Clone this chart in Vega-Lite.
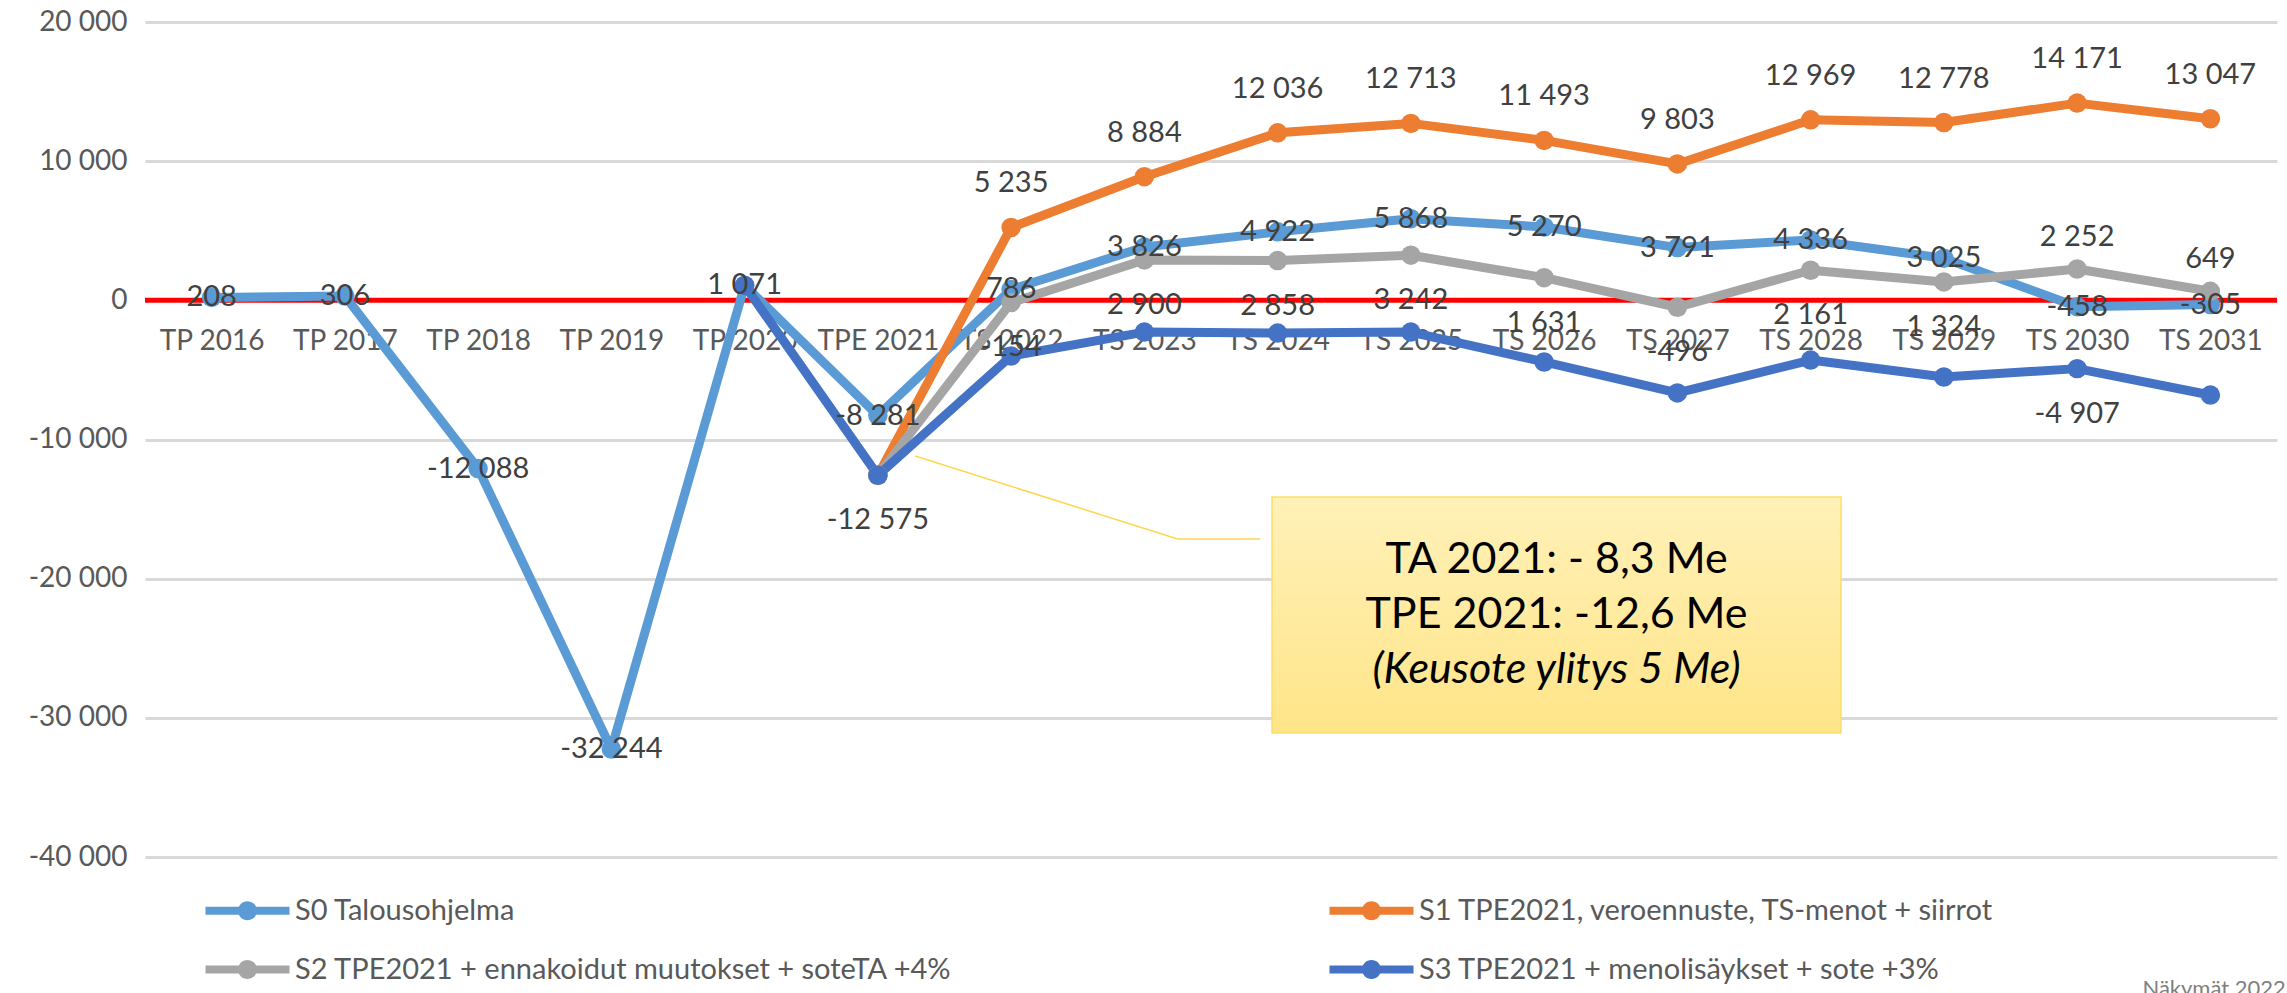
{
  "$schema": "https://vega.github.io/schema/vega-lite/v6.json",
  "width": 2132,
  "height": 835,
  "autosize": {"type": "none"},
  "padding": {"left": 145, "top": 22, "right": 10, "bottom": 136},
  "background": "white",
  "config": {
    "font": "Lato",
    "view": {"stroke": null},
    "locale": {"number": {"decimal": ",", "thousands": " ", "grouping": [3], "currency": ["", " €"], "minus": "-"}},
    "axisY": {"grid": true, "gridColor": "#D9D9D9", "gridWidth": 3, "domain": false, "ticks": false, "labelPadding": 18, "labelFontSize": 28, "labelColor": "#595959", "labelFont": "Lato", "tickCount": 7}
  },
  "resolve": {"scale": {"x": "independent"}},
  "layer": [
    {
      "data": {"values": [{}]},
      "mark": {"type": "rule", "color": "#FF0000", "strokeWidth": 5},
      "encoding": {"y": {"datum": 0, "type": "quantitative", "scale": {"domain": [-40000, 20000], "nice": false}, "axis": {"title": null, "format": ",.0f"}}}
    },
    {
      "data": {"values": [
        {"c": "TP 2016", "s": "S0 Talousohjelma", "v": 208},
        {"c": "TP 2017", "s": "S0 Talousohjelma", "v": 306},
        {"c": "TP 2018", "s": "S0 Talousohjelma", "v": -12088},
        {"c": "TP 2019", "s": "S0 Talousohjelma", "v": -32244},
        {"c": "TP 2020", "s": "S0 Talousohjelma", "v": 1071},
        {"c": "TPE 2021", "s": "S0 Talousohjelma", "v": -8281},
        {"c": "TS 2022", "s": "S0 Talousohjelma", "v": 786},
        {"c": "TS 2023", "s": "S0 Talousohjelma", "v": 3826},
        {"c": "TS 2024", "s": "S0 Talousohjelma", "v": 4922},
        {"c": "TS 2025", "s": "S0 Talousohjelma", "v": 5868},
        {"c": "TS 2026", "s": "S0 Talousohjelma", "v": 5270},
        {"c": "TS 2027", "s": "S0 Talousohjelma", "v": 3791},
        {"c": "TS 2028", "s": "S0 Talousohjelma", "v": 4336},
        {"c": "TS 2029", "s": "S0 Talousohjelma", "v": 3025},
        {"c": "TS 2030", "s": "S0 Talousohjelma", "v": -458},
        {"c": "TS 2031", "s": "S0 Talousohjelma", "v": -305},
        {"c": "TPE 2021", "s": "S1 TPE2021, veroennuste, TS-menot + siirrot", "v": -12575},
        {"c": "TS 2022", "s": "S1 TPE2021, veroennuste, TS-menot + siirrot", "v": 5235},
        {"c": "TS 2023", "s": "S1 TPE2021, veroennuste, TS-menot + siirrot", "v": 8884},
        {"c": "TS 2024", "s": "S1 TPE2021, veroennuste, TS-menot + siirrot", "v": 12036},
        {"c": "TS 2025", "s": "S1 TPE2021, veroennuste, TS-menot + siirrot", "v": 12713},
        {"c": "TS 2026", "s": "S1 TPE2021, veroennuste, TS-menot + siirrot", "v": 11493},
        {"c": "TS 2027", "s": "S1 TPE2021, veroennuste, TS-menot + siirrot", "v": 9803},
        {"c": "TS 2028", "s": "S1 TPE2021, veroennuste, TS-menot + siirrot", "v": 12969},
        {"c": "TS 2029", "s": "S1 TPE2021, veroennuste, TS-menot + siirrot", "v": 12778},
        {"c": "TS 2030", "s": "S1 TPE2021, veroennuste, TS-menot + siirrot", "v": 14171},
        {"c": "TS 2031", "s": "S1 TPE2021, veroennuste, TS-menot + siirrot", "v": 13047},
        {"c": "TPE 2021", "s": "S2 TPE2021 + ennakoidut muutokset + soteTA +4%", "v": -12575},
        {"c": "TS 2022", "s": "S2 TPE2021 + ennakoidut muutokset + soteTA +4%", "v": -154},
        {"c": "TS 2023", "s": "S2 TPE2021 + ennakoidut muutokset + soteTA +4%", "v": 2900},
        {"c": "TS 2024", "s": "S2 TPE2021 + ennakoidut muutokset + soteTA +4%", "v": 2858},
        {"c": "TS 2025", "s": "S2 TPE2021 + ennakoidut muutokset + soteTA +4%", "v": 3242},
        {"c": "TS 2026", "s": "S2 TPE2021 + ennakoidut muutokset + soteTA +4%", "v": 1631},
        {"c": "TS 2027", "s": "S2 TPE2021 + ennakoidut muutokset + soteTA +4%", "v": -496},
        {"c": "TS 2028", "s": "S2 TPE2021 + ennakoidut muutokset + soteTA +4%", "v": 2161},
        {"c": "TS 2029", "s": "S2 TPE2021 + ennakoidut muutokset + soteTA +4%", "v": 1324},
        {"c": "TS 2030", "s": "S2 TPE2021 + ennakoidut muutokset + soteTA +4%", "v": 2252},
        {"c": "TS 2031", "s": "S2 TPE2021 + ennakoidut muutokset + soteTA +4%", "v": 649},
        {"c": "TP 2020", "s": "S3 TPE2021 + menolisäykset + sote +3%", "v": 1071},
        {"c": "TPE 2021", "s": "S3 TPE2021 + menolisäykset + sote +3%", "v": -12575},
        {"c": "TS 2022", "s": "S3 TPE2021 + menolisäykset + sote +3%", "v": -4000},
        {"c": "TS 2023", "s": "S3 TPE2021 + menolisäykset + sote +3%", "v": -2280},
        {"c": "TS 2024", "s": "S3 TPE2021 + menolisäykset + sote +3%", "v": -2350},
        {"c": "TS 2025", "s": "S3 TPE2021 + menolisäykset + sote +3%", "v": -2280},
        {"c": "TS 2026", "s": "S3 TPE2021 + menolisäykset + sote +3%", "v": -4430},
        {"c": "TS 2027", "s": "S3 TPE2021 + menolisäykset + sote +3%", "v": -6650},
        {"c": "TS 2028", "s": "S3 TPE2021 + menolisäykset + sote +3%", "v": -4290},
        {"c": "TS 2029", "s": "S3 TPE2021 + menolisäykset + sote +3%", "v": -5510},
        {"c": "TS 2030", "s": "S3 TPE2021 + menolisäykset + sote +3%", "v": -4907},
        {"c": "TS 2031", "s": "S3 TPE2021 + menolisäykset + sote +3%", "v": -6805}
      ]},
      "encoding": {
        "x": {"field": "c", "type": "nominal",
          "scale": {"type": "point", "padding": 0.5, "domain": ["TP 2016","TP 2017","TP 2018","TP 2019","TP 2020","TPE 2021","TS 2022","TS 2023","TS 2024","TS 2025","TS 2026","TS 2027","TS 2028","TS 2029","TS 2030","TS 2031"]},
          "axis": {"title": null, "offset": -558, "domain": false, "ticks": false, "tickSize": 0, "labelPadding": 42, "labelBaseline": "middle", "labelFontSize": 28, "labelColor": "#595959", "labelFont": "Lato", "labelOverlap": false, "labelAngle": 0, "labelFlush": false, "grid": false}},
        "y": {"field": "v", "type": "quantitative", "scale": {"domain": [-40000, 20000], "nice": false}, "axis": {"title": null, "format": ",.0f"}},
        "color": {"field": "s", "type": "nominal",
          "scale": {"domain": ["S0 Talousohjelma","S1 TPE2021, veroennuste, TS-menot + siirrot","S2 TPE2021 + ennakoidut muutokset + soteTA +4%","S3 TPE2021 + menolisäykset + sote +3%"], "range": ["#5B9BD5","#ED7D31","#A5A5A5","#4472C4"]},
          "legend": {"orient": "bottom", "offset": -49, "direction": "horizontal", "columns": 2, "title": null,
            "symbolType": "M-4.2,-0.4L4.2,-0.4L4.2,0.4L-4.2,0.4Z M0.95,0A0.95,0.95,0,1,1,-0.95,0A0.95,0.95,0,1,1,0.95,0Z",
            "symbolSize": 400, "symbolStrokeWidth": 0, "symbolOpacity": 1,
            "labelFontSize": 29, "labelFont": "Lato", "labelColor": "#595959", "labelLimit": 1200,
            "labelOffset": 33, "columnPadding": 376, "rowPadding": 29, "padding": 88,
            "encode": {"symbols": {"update": {"fill": {"scale": "color", "field": "value"}, "strokeWidth": {"value": 0}}}}}}
      },
      "layer": [
        {
          "mark": {"type": "line", "strokeWidth": 9, "strokeJoin": "round", "strokeCap": "round"}
        },
        {
          "mark": {"type": "point", "filled": true, "size": 380, "opacity": 1, "shape": "circle", "strokeWidth": 0}
        },
        {
          "transform": [{"filter": "datum.s === 'S0 Talousohjelma'"}],
          "mark": {"type": "text", "fontSize": 29, "color": "#404040", "baseline": "middle", "align": "center"},
          "encoding": {"color": {"value": "#404040"}, "text": {"field": "v", "type": "quantitative", "format": ","}}
        },
        {
          "transform": [{"filter": "datum.s === 'S1 TPE2021, veroennuste, TS-menot + siirrot' && datum.c !== 'TPE 2021'"}],
          "mark": {"type": "text", "fontSize": 29, "color": "#404040", "baseline": "middle", "align": "center", "dy": -44},
          "encoding": {"color": {"value": "#404040"}, "text": {"field": "v", "type": "quantitative", "format": ","}}
        },
        {
          "transform": [{"filter": "datum.s === 'S2 TPE2021 + ennakoidut muutokset + soteTA +4%' && datum.c !== 'TPE 2021' && datum.c !== 'TS 2030' && datum.c !== 'TS 2031'"}],
          "mark": {"type": "text", "fontSize": 29, "color": "#404040", "baseline": "middle", "align": "center", "dy": 45},
          "encoding": {"color": {"value": "#404040"}, "text": {"field": "v", "type": "quantitative", "format": ","}}
        },
        {
          "transform": [{"filter": "datum.s === 'S2 TPE2021 + ennakoidut muutokset + soteTA +4%' && (datum.c === 'TS 2030' || datum.c === 'TS 2031')"}],
          "mark": {"type": "text", "fontSize": 29, "color": "#404040", "baseline": "middle", "align": "center", "dy": -32},
          "encoding": {"color": {"value": "#404040"}, "text": {"field": "v", "type": "quantitative", "format": ","}}
        },
        {
          "transform": [{"filter": "datum.s === 'S3 TPE2021 + menolisäykset + sote +3%' && (datum.c === 'TPE 2021' || datum.c === 'TS 2030')"}],
          "mark": {"type": "text", "fontSize": 29, "color": "#404040", "baseline": "middle", "align": "center", "dy": 45},
          "encoding": {"color": {"value": "#404040"}, "text": {"field": "v", "type": "quantitative", "format": ","}}
        }
      ]
    },
    {
      "data": {"values": [{}]},
      "mark": {"type": "rule", "color": "#FFD54F", "strokeWidth": 1.5},
      "encoding": {
        "x": {"datum": 5.78, "type": "quantitative", "scale": {"domain": [0, 16], "nice": false, "zero": false}, "axis": null},
        "x2": {"datum": 7.75},
        "y": {"datum": -11185, "type": "quantitative", "scale": {"domain": [-40000, 20000], "nice": false}, "axis": {"title": null, "format": ",.0f"}},
        "y2": {"datum": -17150}
      }
    },
    {
      "data": {"values": [{}]},
      "mark": {"type": "rule", "color": "#FFD54F", "strokeWidth": 1.5},
      "encoding": {
        "x": {"datum": 7.75, "type": "quantitative", "scale": {"domain": [0, 16], "nice": false, "zero": false}, "axis": null},
        "x2": {"datum": 8.37},
        "y": {"datum": -17150, "type": "quantitative", "scale": {"domain": [-40000, 20000], "nice": false}, "axis": {"title": null, "format": ",.0f"}}
      }
    },
    {
      "data": {"values": [{}]},
      "mark": {"type": "rect", "stroke": "#FFDD66", "strokeWidth": 1.5,
        "fill": {"gradient": "linear", "x1": 0, "y1": 0, "x2": 0, "y2": 1, "stops": [{"offset": 0, "color": "#FFF1B8"}, {"offset": 1, "color": "#FFE589"}]}},
      "encoding": {
        "x": {"datum": 8.458, "type": "quantitative", "scale": {"domain": [0, 16], "nice": false, "zero": false}, "axis": null},
        "x2": {"datum": 12.728},
        "y": {"datum": -14130, "type": "quantitative", "scale": {"domain": [-40000, 20000], "nice": false}, "axis": {"title": null, "format": ",.0f"}},
        "y2": {"datum": -31090}
      }
    },
    {
      "data": {"values": [{}]},
      "mark": {"type": "text", "fontSize": 43, "color": "#000000", "align": "center", "baseline": "middle"},
      "encoding": {
        "x": {"datum": 10.593, "type": "quantitative", "scale": {"domain": [0, 16], "nice": false, "zero": false}, "axis": null},
        "y": {"datum": -18660, "type": "quantitative", "scale": {"domain": [-40000, 20000], "nice": false}, "axis": {"title": null, "format": ",.0f"}},
        "text": {"value": "TA 2021: - 8,3 Me"}
      }
    },
    {
      "data": {"values": [{}]},
      "mark": {"type": "text", "fontSize": 43, "color": "#000000", "align": "center", "baseline": "middle"},
      "encoding": {
        "x": {"datum": 10.593, "type": "quantitative", "scale": {"domain": [0, 16], "nice": false, "zero": false}, "axis": null},
        "y": {"datum": -22610, "type": "quantitative", "scale": {"domain": [-40000, 20000], "nice": false}, "axis": {"title": null, "format": ",.0f"}},
        "text": {"value": "TPE 2021: -12,6 Me"}
      }
    },
    {
      "data": {"values": [{}]},
      "mark": {"type": "text", "fontSize": 43, "fontStyle": "italic", "color": "#000000", "align": "center", "baseline": "middle"},
      "encoding": {
        "x": {"datum": 10.593, "type": "quantitative", "scale": {"domain": [0, 16], "nice": false, "zero": false}, "axis": null},
        "y": {"datum": -26560, "type": "quantitative", "scale": {"domain": [-40000, 20000], "nice": false}, "axis": {"title": null, "format": ",.0f"}},
        "text": {"value": "(Keusote ylitys 5 Me)"}
      }
    },
    {
      "data": {"values": [{}]},
      "mark": {"type": "text", "fontSize": 22, "color": "#7F7F7F", "align": "left", "baseline": "top"},
      "encoding": {
        "x": {"datum": 14.99, "type": "quantitative", "scale": {"domain": [0, 16], "nice": false, "zero": false}, "axis": null},
        "y": {"datum": -48765, "type": "quantitative", "scale": {"domain": [-40000, 20000], "nice": false}, "axis": {"title": null, "format": ",.0f"}},
        "text": {"value": "Näkymät 2022-2031"}
      }
    }
  ]
}
